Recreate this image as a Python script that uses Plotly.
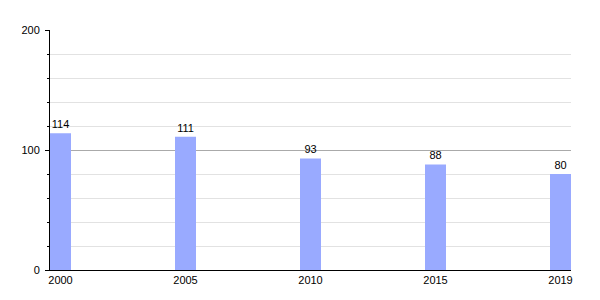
import plotly.graph_objects as go

years = ["2000", "2005", "2010", "2015", "2019"]
values = [114, 111, 93, 88, 80]
y_ticks = [0, 100, 200]

positions = list(range(len(years)))
bar_w = 0.168

fig = go.Figure(go.Bar(
    x=positions, y=values, width=bar_w,
    marker=dict(color="#99aaff", line=dict(width=0)),
    text=[str(v) for v in values], textposition="outside",
    textfont=dict(size=11, color="black", family="Liberation Sans, Arial, sans-serif"),
    cliponaxis=False,
))

fig.update_layout(
    width=600, height=300,
    margin=dict(l=50, r=29, t=30, b=30),
    paper_bgcolor="white", plot_bgcolor="white",
    font=dict(family="Liberation Sans, Arial, sans-serif", size=11, color="black"),
    showlegend=False,
)
fig.update_xaxes(
    range=[-bar_w / 2, positions[-1] + bar_w / 2],
    tickvals=positions, ticktext=years,
    showgrid=False, zeroline=False,
    showline=True, linecolor="black", linewidth=1,
    ticks="", ticklen=0,
    tickfont=dict(size=11, color="black"),
)
fig.update_yaxes(
    range=[0, 200], tickvals=y_ticks,
    showgrid=True, gridcolor="#aaaaaa", gridwidth=1,
    zeroline=False,
    showline=True, linecolor="black", linewidth=1,
    ticks="outside", ticklen=4, tickcolor="black",
    ticklabelstandoff=3,
    minor=dict(dtick=20, showgrid=True, gridcolor="#e2e2e2", ticks="outside", ticklen=2, tickcolor="black"),
    tickfont=dict(size=11, color="black"),
)
fig.write_html("out.html")
